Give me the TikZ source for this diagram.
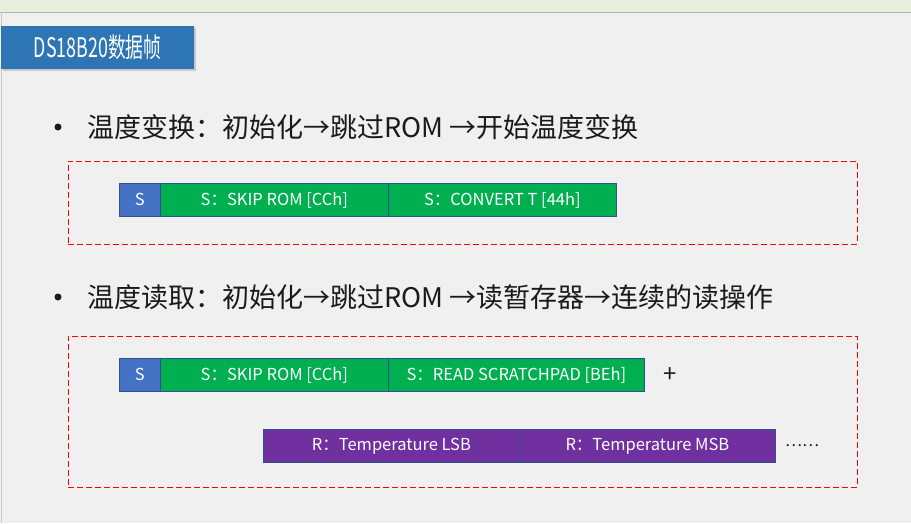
\documentclass[tikz,border=0pt]{standalone}
\usepackage{fontspec}
\setmainfont{Noto Sans CJK SC}
\usetikzlibrary{shadows}
\definecolor{bgc}{HTML}{F0F0F0}
\definecolor{bandc}{HTML}{E6EFDC}
\definecolor{titlec}{HTML}{2E75B6}
\definecolor{sblue}{HTML}{4472C4}
\definecolor{sgreen}{HTML}{00B050}
\definecolor{rpurple}{HTML}{7030A0}
\definecolor{edgec}{HTML}{2F528F}
\definecolor{txt}{HTML}{1A1A1A}
\begin{document}
\begin{tikzpicture}[x=1pt,y=-1pt,
  field/.style={draw=edgec, line width=0.8pt, minimum height=33pt, inner sep=0pt,
     anchor=north west, text=white, font=\fontsize{16.5}{16.5}\selectfont},
  sfield/.style={field, fill=sblue},
  gfield/.style={field, fill=sgreen},
  pfield/.style={field, fill=rpurple},
  frame/.style={draw=red, line width=0.9pt, dash pattern=on 6pt off 3pt},
  bulletdot/.style={circle, fill=txt, inner sep=0pt, minimum size=7pt},
  bullettext/.style={anchor=west, inner sep=0pt, text=txt, font=\fontsize{27}{27}\selectfont},
  titlebox/.style={fill=titlec, text=white, inner sep=0pt, minimum width=193pt, minimum height=43pt,
     anchor=north west, drop shadow={shadow xshift=2pt, shadow yshift=-2pt, opacity=0.35, fill=gray}},
]
\useasboundingbox (0,0) rectangle (911,523);
\fill[bgc] (0,0) rectangle (911,523);
\fill[bandc] (0,0) rectangle (911,12);
\draw[gray!60, line width=0.8pt] (0,12) -- (911,12);
\draw[gray!45, line width=0.8pt] (1,12) -- (1,523);

% title
\node[titlebox] (title) at (1,26) {\scalebox{0.66}[1]{\fontsize{27}{27}\selectfont DS18B20数据帧}};

% bullet 1
\node[bulletdot] (bul1) at (58,127) {};
\node[bullettext] (t1) at (87,127) {温度变换：初始化→跳过ROM →开始温度变换};

% frame 1
\node[frame, minimum width=789pt, minimum height=83pt, inner sep=0pt, anchor=north west] (f1) at (68,161) {};
\node[sfield, minimum width=41pt] (s1) at (119,183) {S};
\node[gfield, minimum width=228pt] (skip1) at (160,183) {S：SKIP ROM [CCh]};
\node[gfield, minimum width=228pt] (conv) at (388,183) {S：CONVERT T [44h]};

% bullet 2
\node[bulletdot] (bul2) at (58,297) {};
\node[bullettext] (t2) at (87,297) {温度读取：初始化→跳过ROM →读暂存器→连续的读操作};

% frame 2
\node[frame, minimum width=789pt, minimum height=151pt, inner sep=0pt, anchor=north west] (f2) at (68,336) {};
\node[sfield, minimum width=41pt] (s2) at (119,358) {S};
\node[gfield, minimum width=228pt] (skip2) at (160,358) {S：SKIP ROM [CCh]};
\node[gfield, minimum width=256pt] (read) at (388,358) {S：READ SCRATCHPAD [BEh]};
\node[text=txt, inner sep=0pt, font=\fontsize{24}{24}\selectfont] (plus) at (670,375) {+};
\node[pfield, minimum width=256pt] (lsb) at (263,429) {R：Temperature LSB};
\node[pfield, minimum width=256pt] (msb) at (519,429) {R：Temperature MSB};
\node[text=txt, inner sep=0pt, font=\fontsize{16}{16}\selectfont] (dots) at (802,446) {……};
\end{tikzpicture}
\end{document}
